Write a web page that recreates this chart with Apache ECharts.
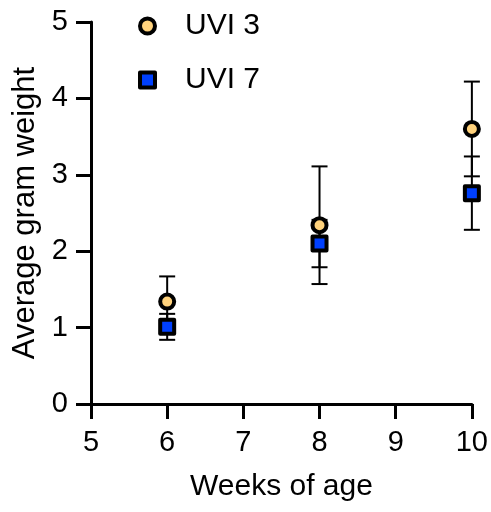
<!DOCTYPE html>
<html>
<head>
<meta charset="utf-8">
<script src="https://cdn.jsdelivr.net/npm/echarts@6/dist/echarts.min.js"></script>
<style>
html,body{margin:0;padding:0;background:#fff;}
#chart{width:491px;height:512px;}
</style>
</head>
<body>
<div id="chart"></div>
<script>
var weeks = [6, 8, 10];
var uvi3Mean = [1.34, 2.34, 3.60];
var uvi3SD = [0.33, 0.77, 0.62];
var uvi7Mean = [1.01, 2.10, 2.76];
var uvi7SD = [0.17, 0.31, 0.48];
var xTicks = [5, 6, 7, 8, 9, 10];
var yTicks = [0, 1, 2, 3, 4, 5];
var seriesNames = ['UVI 3', 'UVI 7'];

var FONT = 'Liberation Sans, Arial, sans-serif';

function pts(means) { return weeks.map(function (w, i) { return [w, means[i]]; }); }
function errs(means, sds) { return weeks.map(function (w, i) { return [w, means[i], sds[i]]; }); }

function errRender(params, api) {
  var x = api.value(0), m = api.value(1), e = api.value(2);
  var top = api.coord([x, m + e]);
  var bot = api.coord([x, m - e]);
  var half = 8;
  var st = { stroke: '#000', lineWidth: 2 };
  return {
    type: 'group',
    children: [
      { type: 'line', shape: { x1: top[0], y1: top[1], x2: bot[0], y2: bot[1] }, style: st },
      { type: 'line', shape: { x1: top[0] - half, y1: top[1], x2: top[0] + half, y2: top[1] }, style: st },
      { type: 'line', shape: { x1: bot[0] - half, y1: bot[1], x2: bot[0] + half, y2: bot[1] }, style: st }
    ]
  };
}

var chart = echarts.init(document.getElementById('chart'), null, { renderer: 'canvas' });
chart.setOption({
  animation: false,
  backgroundColor: '#fff',
  grid: { left: 91, right: 16, top: 22, bottom: 108, containLabel: false },
  legend: {
    data: seriesNames,
    orient: 'vertical',
    left: 133,
    top: 6,
    itemWidth: 15,
    itemHeight: 15,
    itemGap: 24,
    itemStyle: { borderWidth: 4, borderColor: '#000' },
    textStyle: { fontFamily: FONT, fontSize: 30, color: '#000', padding: [0, 0, 0, 25] }
  },
  xAxis: {
    type: 'value', min: 5, max: 10, interval: 1,
    name: 'Weeks of age', nameLocation: 'middle', nameGap: 68,
    nameTextStyle: { fontFamily: FONT, fontSize: 30, color: '#000' },
    axisLine: { show: true, onZero: false, lineStyle: { color: '#000', width: 3 } },
    axisTick: { show: true, length: 15, lineStyle: { color: '#000', width: 3 } },
    axisLabel: { margin: 24, fontFamily: FONT, fontSize: 29, color: '#000',
      formatter: function (v) { return xTicks.indexOf(v) >= 0 ? String(v) : ''; } },
    splitLine: { show: false }
  },
  yAxis: {
    type: 'value', min: 0, max: 5, interval: 1,
    name: 'Average gram weight', nameLocation: 'middle', nameGap: 46,
    nameTextStyle: { fontFamily: FONT, fontSize: 31, color: '#000' },
    axisLine: { show: true, onZero: false, lineStyle: { color: '#000', width: 3 } },
    axisTick: { show: true, length: 15, lineStyle: { color: '#000', width: 3 } },
    axisLabel: { margin: 23, fontFamily: FONT, fontSize: 29, color: '#000',
      formatter: function (v) { return yTicks.indexOf(v) >= 0 ? String(v) : ''; } },
    splitLine: { show: false }
  },
  series: [
    { type: 'custom', name: 'err3', renderItem: errRender, data: errs(uvi3Mean, uvi3SD), z: 1, silent: true },
    { type: 'custom', name: 'err7', renderItem: errRender, data: errs(uvi7Mean, uvi7SD), z: 1, silent: true },
    { type: 'scatter', name: seriesNames[0], symbol: 'circle', symbolSize: 14, data: pts(uvi3Mean), z: 5,
      itemStyle: { color: '#FFD27C', borderColor: '#000', borderWidth: 4, opacity: 1 } },
    { type: 'scatter', name: seriesNames[1], symbol: 'rect', symbolSize: 14, data: pts(uvi7Mean), z: 5,
      itemStyle: { color: '#0040FF', borderColor: '#000', borderWidth: 4, borderJoin: 'round', opacity: 1 } }
  ]
});
</script>
</body>
</html>
